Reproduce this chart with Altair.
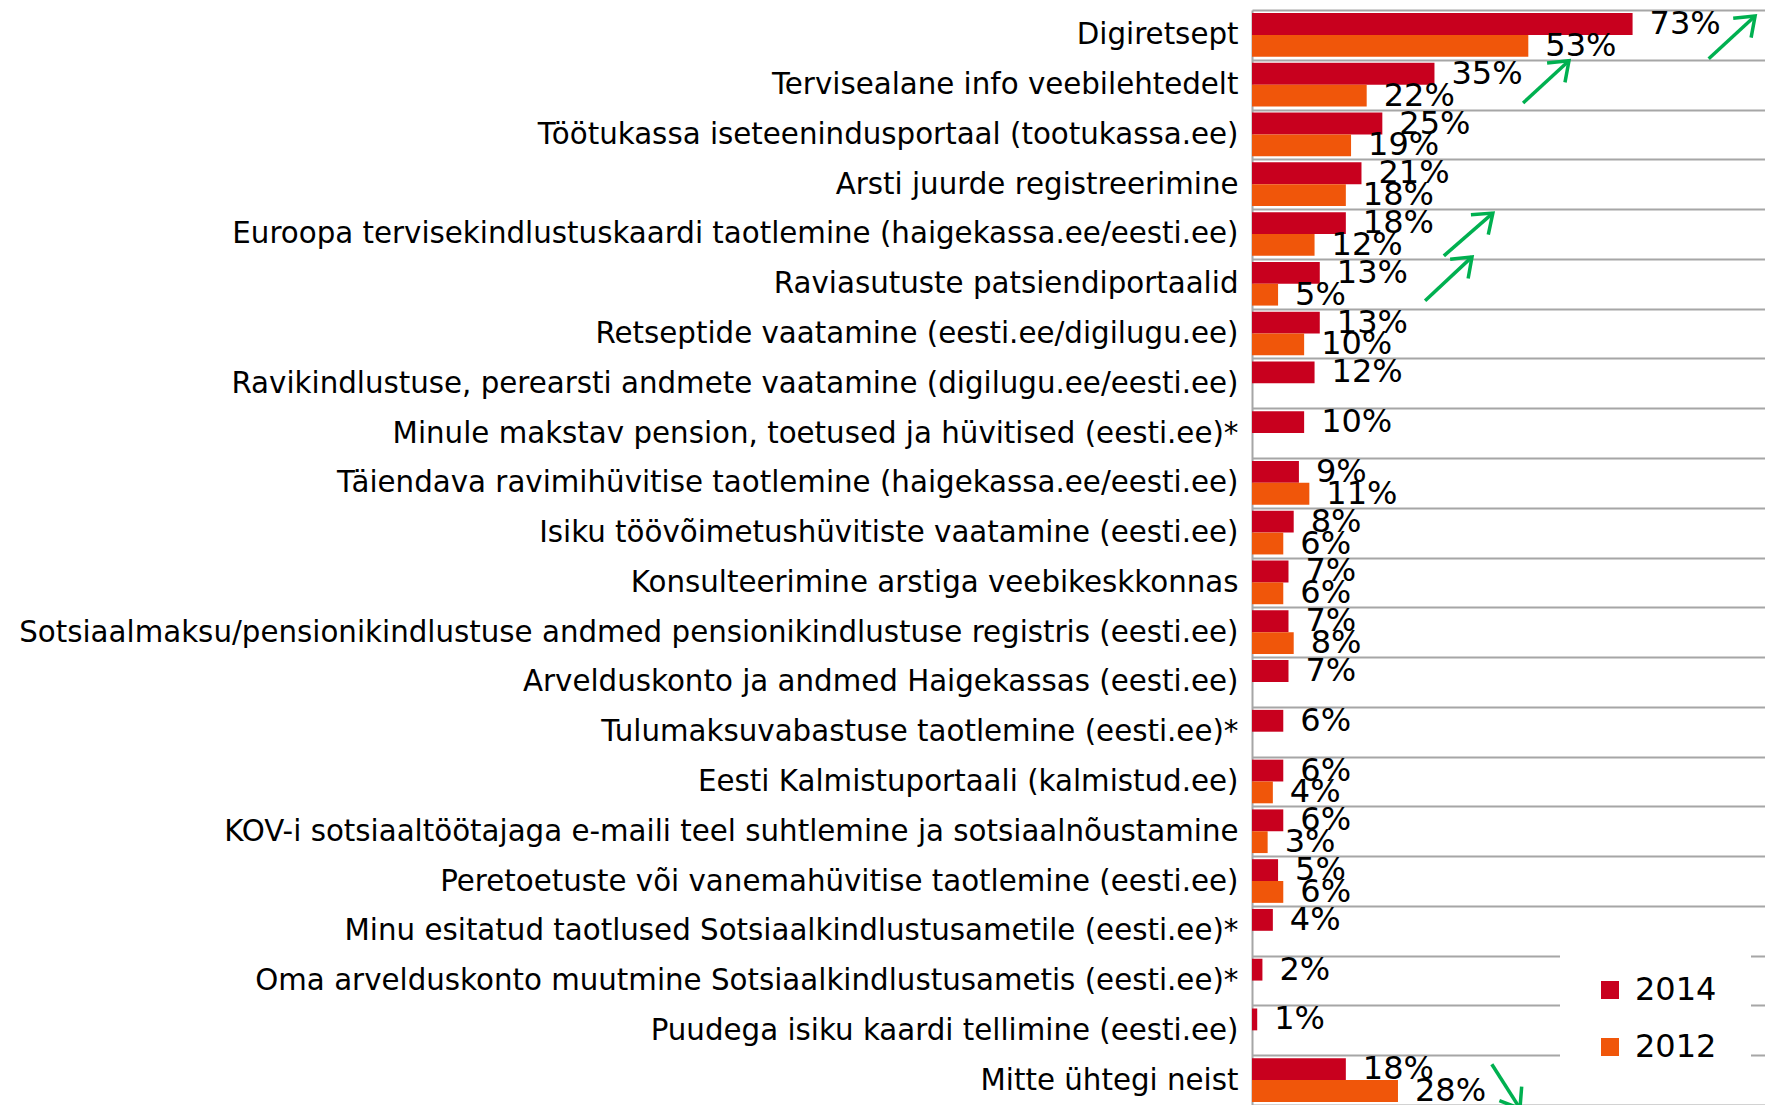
import math
import altair as alt
import pandas as pd

categories = [
    "Digiretsept",
    "Tervisealane info veebilehtedelt",
    "Töötukassa iseteenindusportaal (tootukassa.ee)",
    "Arsti juurde registreerimine",
    "Euroopa tervisekindlustuskaardi taotlemine (haigekassa.ee/eesti.ee)",
    "Raviasutuste patsiendiportaalid",
    "Retseptide vaatamine (eesti.ee/digilugu.ee)",
    "Ravikindlustuse, perearsti andmete vaatamine (digilugu.ee/eesti.ee)",
    "Minule makstav pension, toetused ja hüvitised (eesti.ee)*",
    "Täiendava ravimihüvitise taotlemine (haigekassa.ee/eesti.ee)",
    "Isiku töövõimetushüvitiste vaatamine (eesti.ee)",
    "Konsulteerimine arstiga veebikeskkonnas",
    "Sotsiaalmaksu/pensionikindlustuse andmed pensionikindlustuse registris (eesti.ee)",
    "Arvelduskonto ja andmed Haigekassas (eesti.ee)",
    "Tulumaksuvabastuse taotlemine (eesti.ee)*",
    "Eesti Kalmistuportaali (kalmistud.ee)",
    "KOV-i sotsiaaltöötajaga e-maili teel suhtlemine ja sotsiaalnõustamine",
    "Peretoetuste või vanemahüvitise taotlemine (eesti.ee)",
    "Minu esitatud taotlused Sotsiaalkindlustusametile (eesti.ee)*",
    "Oma arvelduskonto muutmine Sotsiaalkindlustusametis (eesti.ee)*",
    "Puudega isiku kaardi tellimine (eesti.ee)",
    "Mitte ühtegi neist",
]
v2014 = [73, 35, 25, 21, 18, 13, 13, 12, 10, 9, 8, 7, 7, 7, 6, 6, 6, 5, 4, 2, 1, 18]
v2012 = [53, 22, 19, 18, 12, 5, 10, None, None, 11, 6, 6, 8, None, None, 4, 3, 6, None, None, None, 28]
series = ["2014", "2012"]
colors = ["#C8001E", "#F0560A"]

# trend arrows: tail (x in %, y in rows from top) -> head
arrow_x1 = [87.6, 52.0, 36.8, 33.2, 46.0]
arrow_y1 = [0.98, 1.87, 4.94, 5.84, 21.18]
arrow_x2 = [96.5, 60.8, 46.2, 42.2, 51.4]
arrow_y2 = [0.12, 1.02, 4.08, 4.96, 22.07]

W, H = 513, 1095
XMAX = 98.4
NROWS = len(categories)

rows = []
for i, c in enumerate(categories):
    for s, vals in zip(series, [v2014, v2012]):
        if vals[i] is not None:
            rows.append({"category": c, "year": s, "value": vals[i], "label": f"{vals[i]}%"})
df = pd.DataFrame(rows)

px_x = W / XMAX
px_y = H / NROWS
angles = []
for a, b, c, d in zip(arrow_x1, arrow_y1, arrow_x2, arrow_y2):
    dx = (c - a) * px_x
    dy = (d - b) * px_y
    ang = math.degrees(math.atan2(dx, -dy)) % 360
    angles.append(ang)
adf = pd.DataFrame({"x1": arrow_x1, "y1": arrow_y1, "x2": arrow_x2, "y2": arrow_y2, "angle": angles})

FONT = "DejaVu Sans"
GRID = "#A6A6A6"

xscale = alt.Scale(domain=[0, XMAX], nice=False, zero=True)
y_enc = alt.Y(
    "category:N",
    sort=categories,
    scale=alt.Scale(paddingInner=0, paddingOuter=0),
    axis=alt.Axis(
        title=None, tickBand="extent", grid=True, ticks=False,
        labelFontSize=29.3, labelFont=FONT, labelColor="black", labelLimit=1400,
        labelPadding=14, domainColor=GRID, domainWidth=2,
        gridColor=GRID, gridWidth=2,
    ),
)
yoff = alt.YOffset("year:N", sort=series, scale=alt.Scale(paddingInner=0, paddingOuter=0.14))

bars = alt.Chart(df).mark_bar().encode(
    x=alt.X("value:Q", scale=xscale, axis=None),
    y=y_enc,
    yOffset=yoff,
    color=alt.Color(
        "year:N", sort=series,
        scale=alt.Scale(domain=series, range=colors),
        legend=alt.Legend(
            title=None, orient="none", legendX=308, legendY=930,
            fillColor="white", padding=34, symbolType="square", symbolSize=324,
            symbolStrokeWidth=0, symbolOpacity=1, labelFontSize=32, labelFont=FONT,
            labelColor="black", rowPadding=25, labelOffset=9,
        ),
    ),
)
texts = alt.Chart(df).mark_text(
    align="left", baseline="middle", dx=17, fontSize=32, font=FONT, color="black"
).encode(
    x=alt.X("value:Q", scale=xscale, axis=None),
    y=y_enc,
    yOffset=yoff,
    text="label:N",
)

yq = alt.Scale(domain=[0, NROWS], reverse=True, nice=False, zero=False)
shaft = alt.Chart(adf).mark_rule(color="#00B050", strokeWidth=3.5).encode(
    x=alt.X("x1:Q", scale=xscale, axis=None),
    x2="x2:Q",
    y=alt.Y("y1:Q", scale=yq, axis=None),
    y2="y2:Q",
)
heads = alt.Chart(adf).mark_point(
    shape="M-0.6,0.8L0,0L0.6,0.8", filled=False, size=1936, strokeWidth=3.5,
    color="#00B050", opacity=1,
).encode(
    x=alt.X("x2:Q", scale=xscale, axis=None),
    y=alt.Y("y2:Q", scale=yq, axis=None),
    angle=alt.Angle("angle:Q", scale=None),
)

main = alt.layer(bars, texts)
arrows = alt.layer(shaft, heads)
chart = alt.layer(main, arrows).resolve_scale(y="independent").properties(
    width=W, height=H,
    padding={"left": 1244, "top": 2, "right": 0, "bottom": 0},
    autosize=alt.AutoSizeParams(type="none"),
).configure_view(stroke=None)

chart.save("out.html", embed_options={"renderer": "svg", "actions": False})
